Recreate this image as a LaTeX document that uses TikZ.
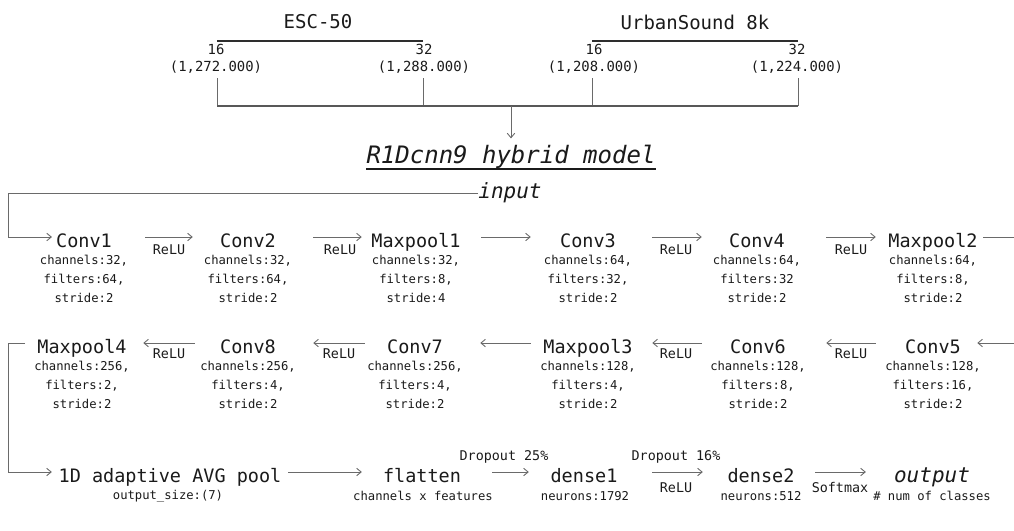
\documentclass[tikz,border=0pt]{standalone}
\usepackage{fontspec}
\setmainfont{DejaVu Sans Mono}
\usetikzlibrary{arrows.meta}
\definecolor{txt}{HTML}{1A1A1A}
\definecolor{lnc}{HTML}{6A6A6A}
\definecolor{barc}{HTML}{2E2E2E}
\newcommand\myfs[2]{\fontsize{#1}{#2}\selectfont}
\begin{document}
\begin{tikzpicture}[x=1pt,y=-1pt,
  nm/.style={font=\myfs{18.5}{20}, text=txt, inner sep=0pt, text height=20pt, text depth=0pt, anchor=base},
  itl/.style={font=\myfs{21}{22}\itshape, text=txt, inner sep=0pt, anchor=base},
  prm/.style={font=\myfs{12.2}{19}, text=txt, align=center, inner sep=0pt},
  lab/.style={font=\myfs{13.4}{14}, text=txt, inner sep=0pt},
  subl/.style={font=\myfs{12.2}{14}, text=txt, inner sep=0pt},
  dset/.style={font=\myfs{19}{20}, text=txt, inner sep=0pt},
  dnum/.style={font=\myfs{13.9}{17}, text=txt, align=center, inner sep=0pt},
  conn/.style={draw=lnc, line width=0.9pt},
  arr/.style={conn, -{Straight Barb[length=4.5pt,width=7.5pt]}},
  bar/.style={draw=barc, line width=1.6pt},
]
\useasboundingbox (0,0) rectangle (1014,530);

% ---------- datasets ----------
\node[dset] (esc) at (318,22) {ESC-50};
\node[dset] (us) at (695,22) {UrbanSound 8k};
\draw[bar] (217,41) -- (423,41);
\draw[bar] (592,41) -- (798,41);
\node[dnum] (e16) at (216,59) {16\\(1,272.000)};
\node[dnum] (e32) at (424,59) {32\\(1,288.000)};
\node[dnum] (u16) at (594,59) {16\\(1,208.000)};
\node[dnum] (u32) at (797,59) {32\\(1,224.000)};
\coordinate (br) at (511,106);
\draw[conn] (217,78) -- (217,106);
\draw[conn] (423,78) -- (423,106);
\draw[conn] (592,78) -- (592,106);
\draw[conn] (798,78) -- (798,106);
\draw[conn, line width=1.4pt, draw=barc!80] (217,106) -- (798,106);

% ---------- title ----------
\node[itl, font=\myfs{24}{26}\itshape] (title) at (511,163) {R1Dcnn9 hybrid model};
\coordinate (ul) at (0,169);
\draw[line width=1.6pt, draw=txt] (title.west |- ul) -- (title.east |- ul);
\draw[arr, shorten >=6pt] (br) -- (title.north);

% ---------- input ----------
\node[itl, text height=11pt, text depth=0pt] (inp) at (510,198.5) {input};

% ---------- row 1 ----------
\node[nm] (c1)  at (84,247)  {Conv1};
\node[nm] (c2)  at (248,247) {Conv2};
\node[nm] (mp1) at (416,247) {Maxpool1};
\node[nm] (c3)  at (588,247) {Conv3};
\node[nm] (c4)  at (757,247) {Conv4};
\node[nm] (mp2) at (933,247) {Maxpool2};
\node[prm] (p1)  at (84,279)  {channels:32,\\filters:64,\\stride:2};
\node[prm] (p2)  at (248,279) {channels:32,\\filters:64,\\stride:2};
\node[prm] (pm1) at (416,279) {channels:32,\\filters:8,\\stride:4};
\node[prm] (p3)  at (588,279) {channels:64,\\filters:32,\\stride:2};
\node[prm] (p4)  at (757,279) {channels:64,\\filters:32\\stride:2};
\node[prm] (pm2) at (933,279) {channels:64,\\filters:8,\\stride:2};

\coordinate (L1) at (8,193);
\draw[arr, shorten >=4pt] (inp.west) -- (L1) |- (c1);
\draw[arr, shorten <=33.2pt, shorten >=27.2pt] (c1) -- (c2);
\draw[arr, shorten <=37.2pt, shorten >=9.5pt] (c2) -- (mp1);
\draw[arr, shorten <=20.5pt, shorten >=29.2pt] (mp1) -- (c3);
\draw[arr, shorten <=36.2pt, shorten >=27.2pt] (c3) -- (c4);
\draw[arr, shorten <=41.2pt, shorten >=12.5pt] (c4) -- (mp2);
\coordinate (R1) at (1014,237);
\draw[conn, shorten <=5.5pt] (mp2) -- (R1);
\node[lab] (r1) at (169,250) {ReLU};
\node[lab] (r2) at (340,250) {ReLU};
\node[lab] (r3) at (676,250) {ReLU};
\node[lab] (r4) at (851,250) {ReLU};

% ---------- row 2 ----------
\node[nm] (mp4) at (82,353)  {Maxpool4};
\node[nm] (c8)  at (248,353) {Conv8};
\node[nm] (c7)  at (415,353) {Conv7};
\node[nm] (mp3) at (588,353) {Maxpool3};
\node[nm] (c6)  at (758,353) {Conv6};
\node[nm] (c5)  at (933,353) {Conv5};
\node[prm] (pm4) at (82,385)  {channels:256,\\filters:2,\\stride:2};
\node[prm] (p8)  at (248,385) {channels:256,\\filters:4,\\stride:2};
\node[prm] (p7)  at (415,385) {channels:256,\\filters:4,\\stride:2};
\node[prm] (pm3) at (588,385) {channels:128,\\filters:4,\\stride:2};
\node[prm] (p6)  at (758,385) {channels:128,\\filters:8,\\stride:2};
\node[prm] (p5)  at (933,385) {channels:128,\\filters:16,\\stride:2};

\coordinate (R2) at (1014,343);
\draw[arr, shorten >=16.2pt] (R2) -- (c5);
\draw[arr, shorten <=29.2pt, shorten >=40.2pt] (c5) -- (c6);
\draw[arr, shorten <=28.2pt, shorten >=19.5pt] (c6) -- (mp3);
\draw[arr, shorten <=12.5pt, shorten >=37.2pt] (mp3) -- (c7);
\draw[arr, shorten <=22.2pt, shorten >=37.2pt] (c7) -- (c8);
\draw[arr, shorten <=25.2pt, shorten >=16.5pt] (c8) -- (mp4);
\node[lab] (r5) at (169,354) {ReLU};
\node[lab] (r6) at (339,354) {ReLU};
\node[lab] (r7) at (676,354) {ReLU};
\node[lab] (r8) at (851,354) {ReLU};

% ---------- row 3 ----------
\node[nm] (ad) at (170,482) {1D adaptive AVG pool};
\node[nm] (fl) at (422,482) {flatten};
\node[nm] (d1) at (584,482) {dense1};
\node[nm] (d2) at (761,482) {dense2};
\node[itl, text height=20pt, text depth=0pt] (out) at (932,482) {output};
\node[subl] (s1) at (168,496) {output\_size:(7)};
\node[subl] (s2) at (423,496) {channels x features};
\node[subl] (s3) at (585,496) {neurons:1792};
\node[subl] (s4) at (761,496) {neurons:512};
\node[subl] (s5) at (932,496) {\# num of classes};

\coordinate (L2) at (8,343);
\draw[arr, shorten <=12pt, shorten >=6.6pt] (mp4) -- (L2) |- (ad);
\draw[arr, shorten <=6.6pt, shorten >=21pt] (ad) -- (fl);
\draw[arr, shorten <=31pt, shorten >=21.6pt] (fl) -- (d1);
\draw[arr, shorten <=34.6pt, shorten >=24.6pt] (d1) -- (d2);
\draw[arr, shorten <=20.6pt, shorten >=28pt] (d2) -- (out);
\node[lab] (do1) at (504,457) {Dropout 25\%};
\node[lab] (do2) at (676,457) {Dropout 16\%};
\node[lab] (r9)  at (676,488) {ReLU};
\node[lab] (sm)  at (840,487) {Softmax};
\end{tikzpicture}
\end{document}
